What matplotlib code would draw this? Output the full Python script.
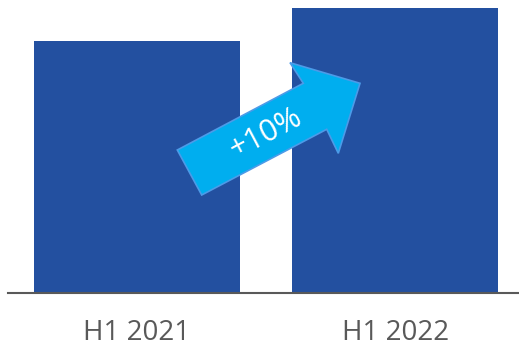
import matplotlib
matplotlib.use("Agg")
import matplotlib.pyplot as plt
from matplotlib.patches import Polygon

categories = ["H1 2021", "H1 2022"]
values = [251.5, 284.5]
change_label = "+10%"

W, H = 519, 347
fig = plt.figure(figsize=(W / 100, H / 100), dpi=100)
fig.patch.set_facecolor("white")

ax_left, ax_right, ax_bottom_px = 8, 519, 292.5
ax = fig.add_axes([ax_left / W, 1 - ax_bottom_px / H, (ax_right - ax_left) / W, ax_bottom_px / H])
x = list(range(len(categories)))
ax.bar(x, values, width=0.80, color="#2350A0")
ax.set_xlim(-0.5, 1.48)
ax.set_ylim(0, values[1] * 292.5 / 284.5)
ax.set_xticks(x)
ax.set_xticklabels(categories, fontsize=20, color="#595959", family="Open Sans")
ax.tick_params(axis="x", length=0, pad=19)
ax.set_yticks([])
for s in ["top", "left", "right"]:
    ax.spines[s].set_visible(False)
ax.spines["bottom"].set_color("#595959")
ax.spines["bottom"].set_linewidth(1.5)
ax.set_facecolor("none")

# growth arrow (figure pixel coordinates)
pts = [(177.3, 150), (303.3, 83.3), (290, 62.7), (360, 83.3), (338.3, 153.3), (326.7, 129.3), (201.7, 195)]
poly = Polygon([(px / W, 1 - py / H) for px, py in pts], closed=True,
               facecolor="#00AEEF", edgecolor="#4C9BE8", linewidth=1.2,
               transform=fig.transFigure, zorder=5)
fig.add_artist(poly)
fig.text(266 / W, 1 - 134 / H, change_label, rotation=28, rotation_mode="anchor",
         ha="center", va="center", color="white", fontsize=22, family="Open Sans", zorder=6)

fig.savefig("out.png", dpi=100)
